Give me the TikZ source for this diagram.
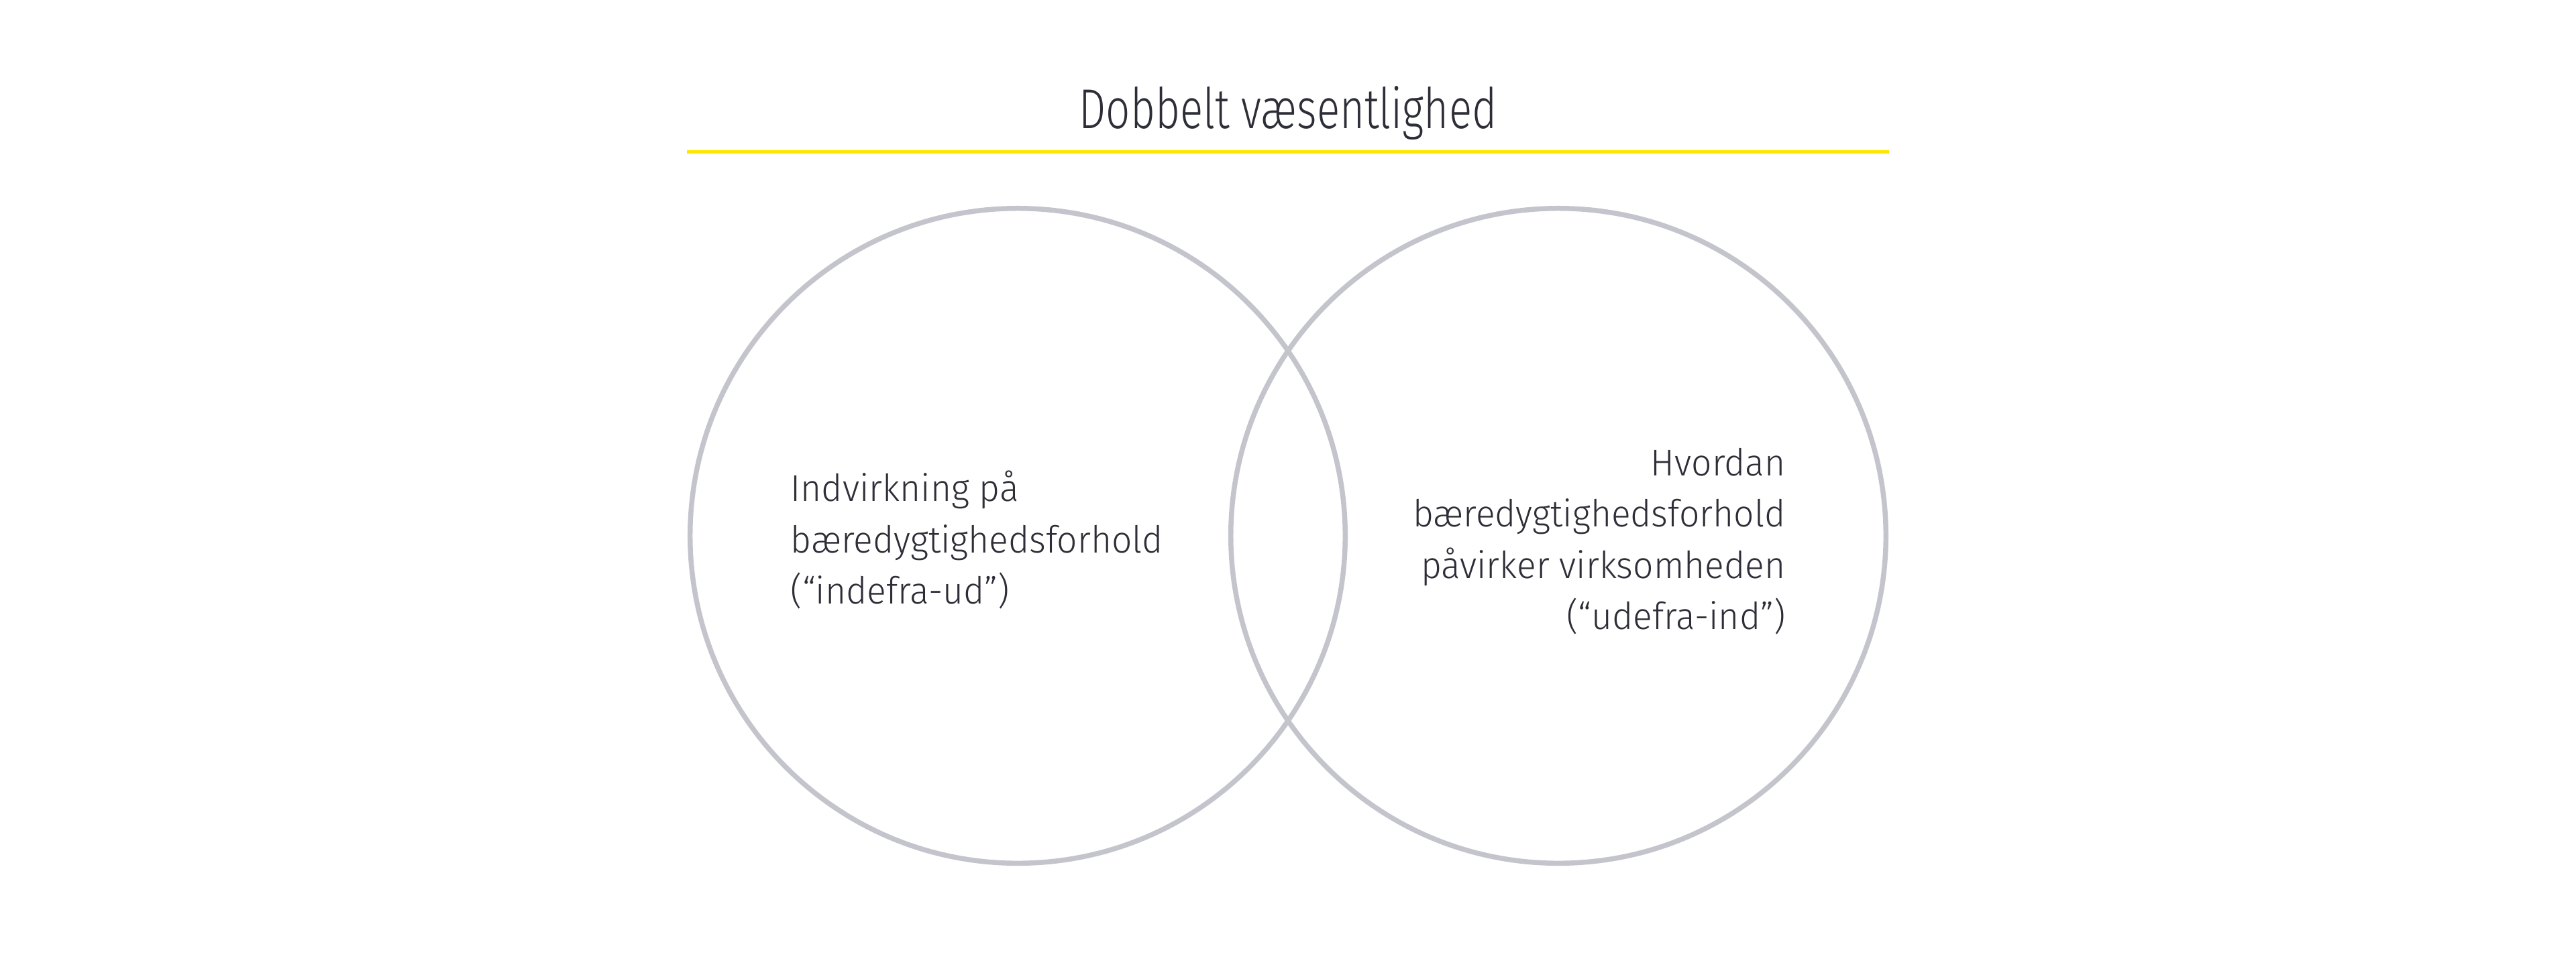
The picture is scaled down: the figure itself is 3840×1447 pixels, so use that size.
\documentclass[tikz,border=0pt]{standalone}
\usepackage{fontspec}
\setmainfont{Fira Sans}
\newfontfamily\bodyfont{Fira Sans Light}[FakeStretch=0.96]
\newfontfamily\headfont{Fira Sans Light}[FakeStretch=0.76]
\definecolor{eytext}{HTML}{2E2E38}
\definecolor{eycircle}{HTML}{C4C4CD}
\definecolor{eyyellow}{HTML}{FFE600}
\tikzset{
  venn/.style={draw=eycircle, line width=2.13pt, circle, minimum size=9.76cm, inner sep=0pt},
  bodytext/.style={text=eytext, inner sep=0pt, font=\bodyfont\fontsize{15.8pt}{21.7pt}\selectfont},
  titletext/.style={text=eytext, inner sep=0pt, font=\headfont\fontsize{23.8pt}{28pt}\selectfont},
  rule/.style={draw=eyyellow, line width=1.42pt}
}
\begin{document}
\begin{tikzpicture}[x=0.01cm,y=-0.01cm]
\useasboundingbox (0,0) rectangle (3840,1447);
\node[titletext, anchor=base] (title) at (1920,191) {Dobbelt væsentlighed};
\coordinate (ruleL) at (1024,226);
\coordinate (ruleR) at (2816,226);
\draw[rule] (ruleL) -- (ruleR);
\node[venn] (lc) at (1517,799) {};
\node[venn] (rc) at (2323,799) {};
\node[bodytext, align=left, anchor=west] (lt) at (1178,805) {Indvirkning på\\bæredygtighedsforhold\\(“indefra-ud”)};
\node[bodytext, align=right, anchor=east] (rt) at (2662,807) {Hvordan\\bæredygtighedsforhold\\påvirker virksomheden\\(“udefra-ind”)};
\end{tikzpicture}
\end{document}
